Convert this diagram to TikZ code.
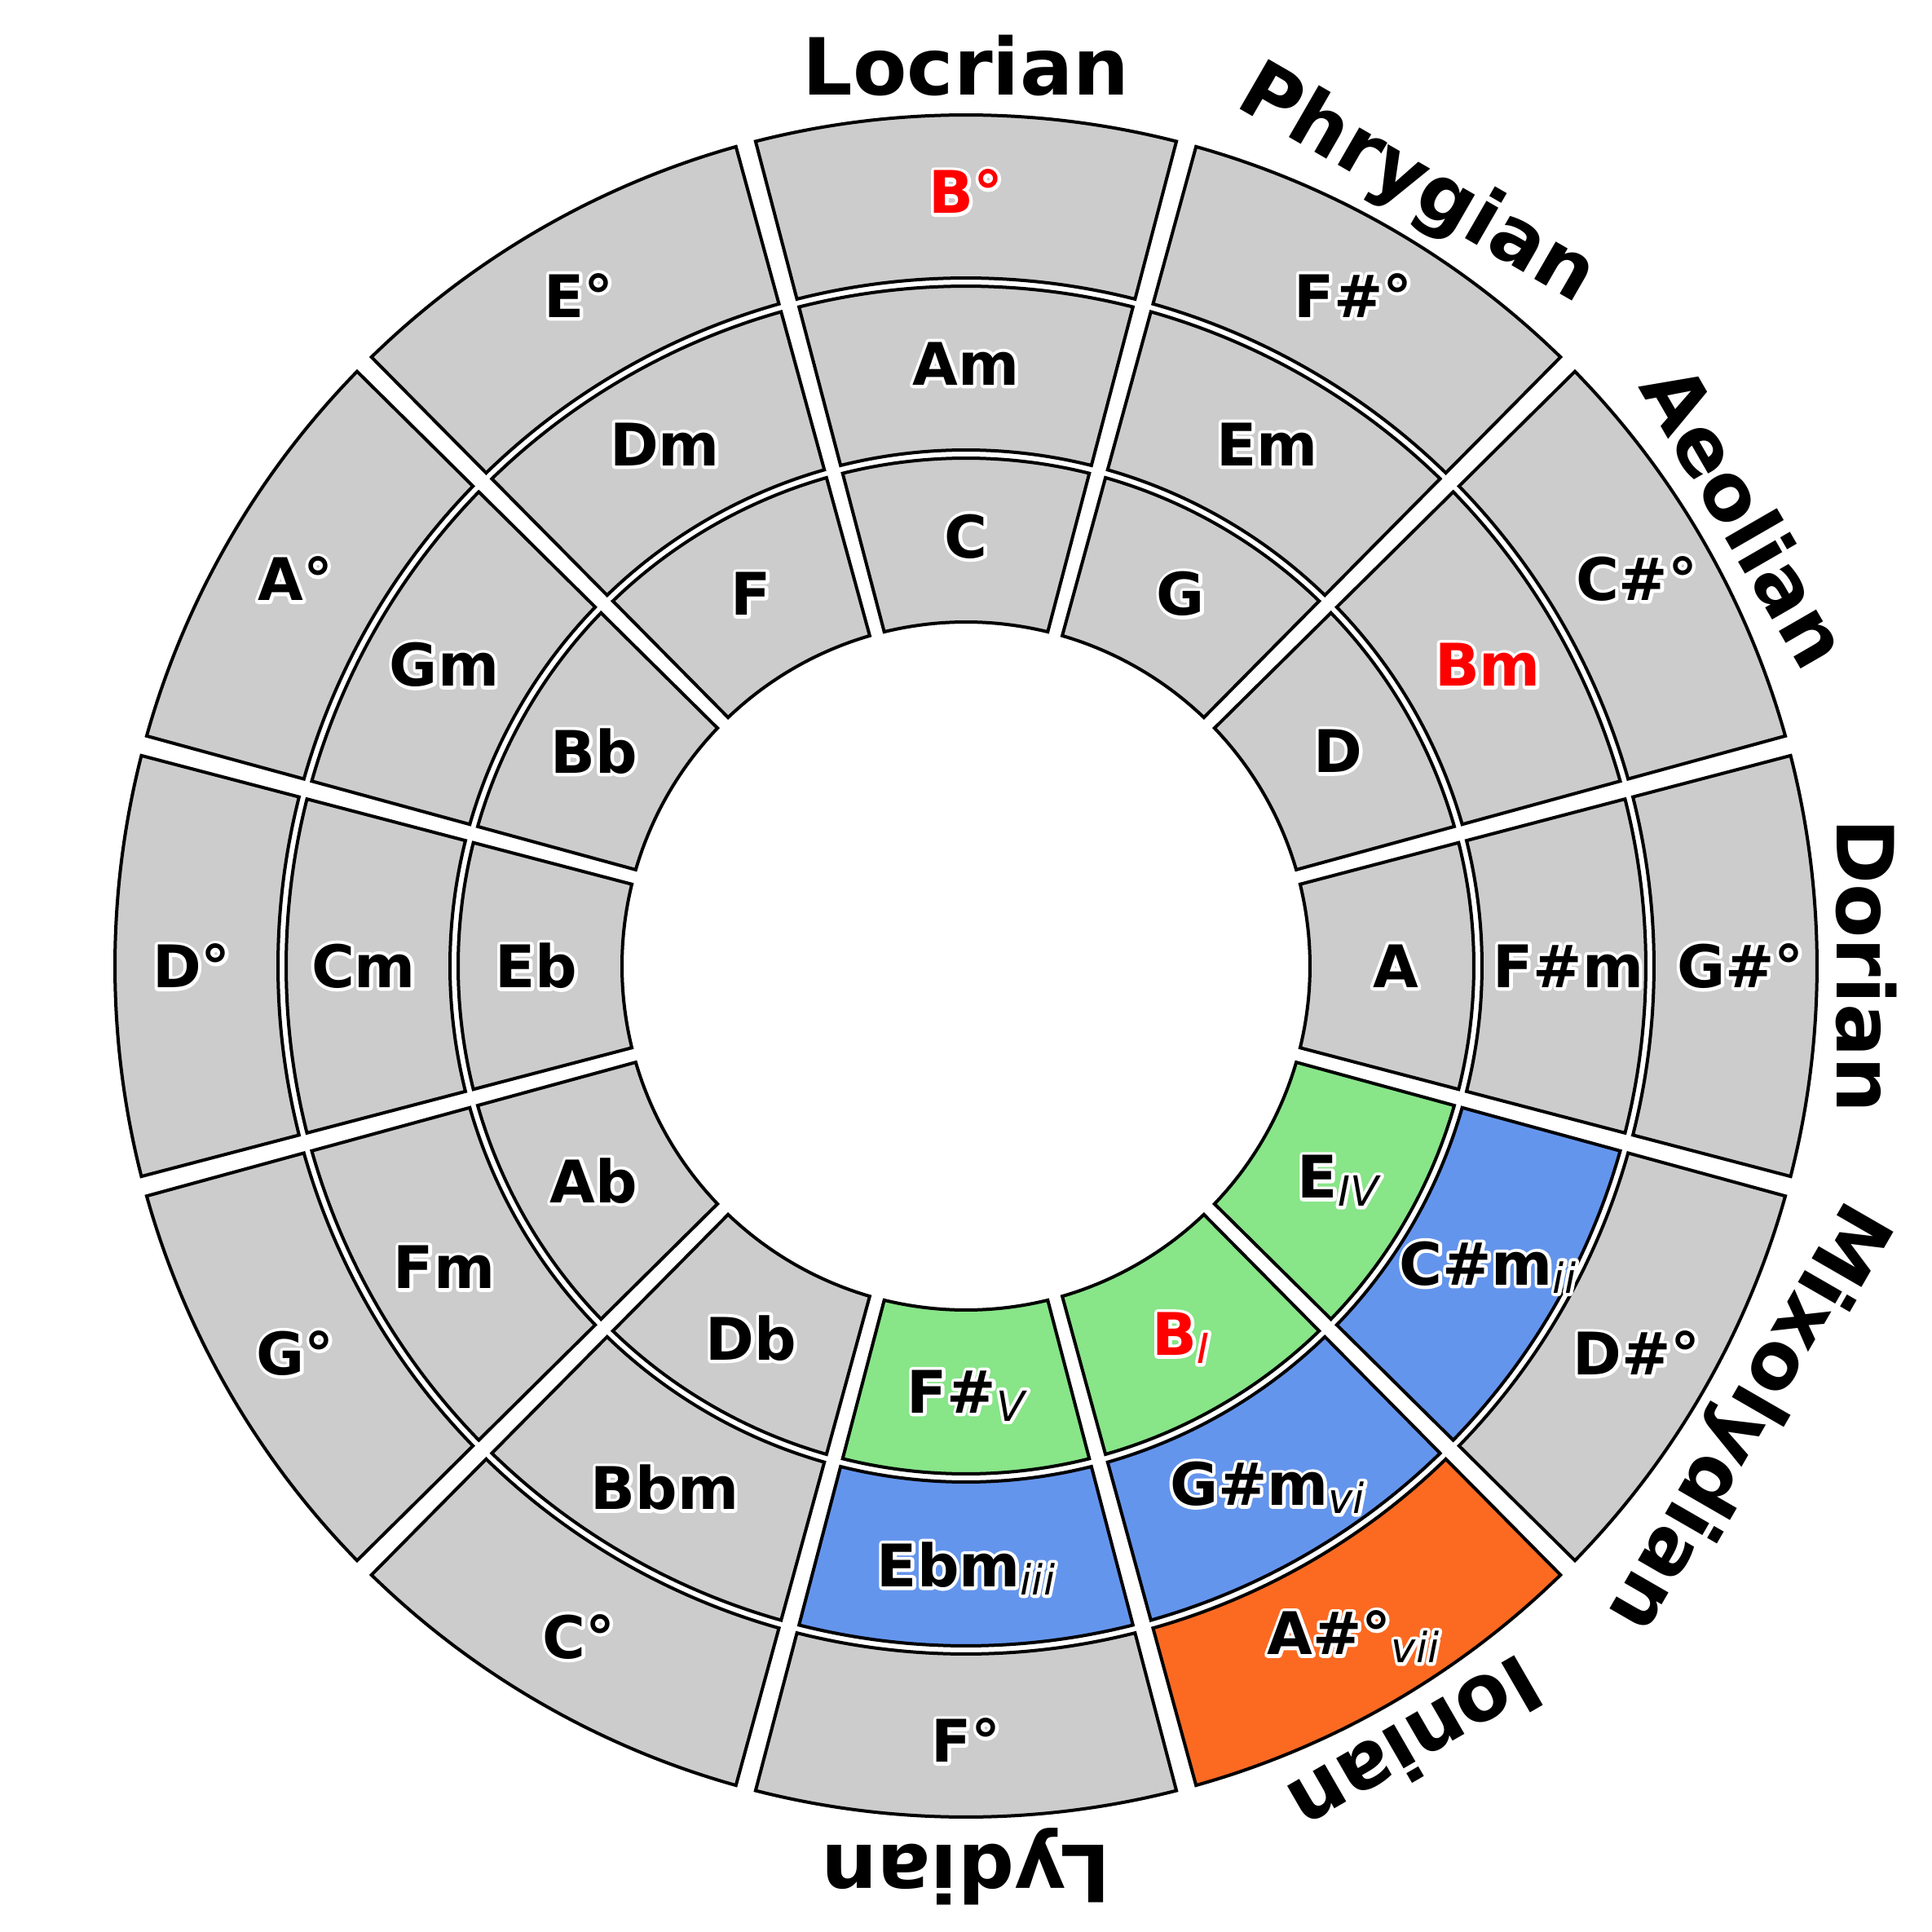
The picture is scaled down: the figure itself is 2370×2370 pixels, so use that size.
\documentclass[tikz,border=0pt]{standalone}
\usepackage{fontspec}
\setmainfont{DejaVu Sans}
\definecolor{cgray}{HTML}{CCCCCC}
\definecolor{cgreen}{HTML}{88E588}
\definecolor{cblue}{HTML}{6495ED}
\definecolor{corange}{HTML}{FC6A22}
\newcommand\halo[1]{\leavevmode\special{pdf:literal q 1 1 1 RG 1 1 1 rg 1 j 1 J 2.3 w 2 Tr}\rlap{#1}\special{pdf:literal Q}#1}
\newcommand\sbs[1]{\raisebox{-2.8pt}{\fontsize{14.5pt}{16pt}\selectfont\mdseries\itshape #1}}
\tikzset{
  sec/.style={draw=black, line width=0.4mm, line join=miter},
  chord/.style={inner sep=0pt, font=\fontsize{20.5pt}{24pt}\selectfont\bfseries},
  modelabel/.style={inner sep=0pt, font=\fontsize{27.5pt}{32pt}\selectfont\bfseries},
}
\newcommand\sector[4]{%
  \pgfmathsetmacro\da{asin(7/#2)+0.3}%
  \pgfmathsetmacro\db{asin(7/#3)+0.3}%
  \filldraw[sec, fill=#4] (#1-15+\da:#2) arc[start angle=#1-15+\da, end angle=#1+15-\da, radius=#2]
    -- (#1+15-\db:#3) arc[start angle=#1+15-\db, end angle=#1-15+\db, radius=#3] -- cycle;}
\begin{document}
\begin{tikzpicture}[x=0.1mm,y=0.1mm]
\useasboundingbox (-1185,-1185) rectangle (1185,1185);
\foreach \a/\ci/\cm/\co in {90/cgray/cgray/cgray,60/cgray/cgray/cgray,30/cgray/cgray/cgray,0/cgray/cgray/cgray,-30/cgreen/cblue/cgray,-60/cgreen/cblue/corange,-90/cgreen/cblue/cgray,-120/cgray/cgray/cgray,-150/cgray/cgray/cgray,180/cgray/cgray/cgray,150/cgray/cgray/cgray,120/cgray/cgray/cgray}{
  \sector{\a}{422}{623}{\ci}
  \sector{\a}{633}{834}{\cm}
  \sector{\a}{844}{1044}{\co}
}
% inner ring
\node[chord] (iC) at (90:527) {\halo{C}};
\node[chord] (iG) at (60:527) {\halo{G}};
\node[chord] (iD) at (30:527) {\halo{D}};
\node[chord] (iA) at (0:527) {\halo{A}};
\node[chord] (iE) at (-30:527) {\halo{E\sbs{IV}}};
\node[chord, text=red] (iB) at (-60:527) {\halo{B\sbs{I}}};
\node[chord] (iFs) at (-90:527) {\halo{F\#\sbs{V}}};
\node[chord] (iDb) at (-120:527) {\halo{Db}};
\node[chord] (iAb) at (-150:527) {\halo{Ab}};
\node[chord] (iEb) at (180:527) {\halo{Eb}};
\node[chord] (iBb) at (150:527) {\halo{Bb}};
\node[chord] (iF) at (120:527) {\halo{F}};
% middle ring
\node[chord] (mAm) at (90:739) {\halo{Am}};
\node[chord] (mEm) at (60:739) {\halo{Em}};
\node[chord, text=red] (mBm) at (30:739) {\halo{Bm}};
\node[chord] (mFsm) at (0:739) {\halo{F\#m}};
\node[chord] (mCsm) at (-30:739) {\halo{C\#m\sbs{ii}}};
\node[chord] (mGsm) at (-60:739) {\halo{G\#m\sbs{vi}}};
\node[chord] (mEbm) at (-90:739) {\halo{Ebm\sbs{iii}}};
\node[chord] (mBbm) at (-120:739) {\halo{Bbm}};
\node[chord] (mFm) at (-150:739) {\halo{Fm}};
\node[chord] (mCm) at (180:739) {\halo{Cm}};
\node[chord] (mGm) at (150:739) {\halo{Gm}};
\node[chord] (mDm) at (120:739) {\halo{Dm}};
% outer ring
\node[chord, text=red] (oB) at (90:950) {\halo{B°}};
\node[chord] (oFs) at (60:950) {\halo{F\#°}};
\node[chord] (oCs) at (30:950) {\halo{C\#°}};
\node[chord] (oGs) at (0:950) {\halo{G\#°}};
\node[chord] (oDs) at (-30:950) {\halo{D\#°}};
\node[chord] (oAs) at (-60:950) {\halo{A\#°\sbs{vii}}};
\node[chord] (oF) at (-90:950) {\halo{F°}};
\node[chord] (oC) at (-120:950) {\halo{C°}};
\node[chord] (oG) at (-150:950) {\halo{G°}};
\node[chord] (oD) at (180:950) {\halo{D°}};
\node[chord] (oA) at (150:950) {\halo{A°}};
\node[chord] (oE) at (120:950) {\halo{E°}};
% modes
\node[modelabel, rotate=0] (mdLoc) at (90:1105) {Locrian};
\node[modelabel, rotate=-30] (mdPhr) at (60:1105) {Phrygian};
\node[modelabel, rotate=-60] (mdAeo) at (30:1105) {Aeolian};
\node[modelabel, rotate=-90] (mdDor) at (0:1105) {Dorian};
\node[modelabel, rotate=-120] (mdMix) at (-30:1105) {Mixolydian};
\node[modelabel, rotate=-150] (mdIon) at (-60:1105) {Ionian};
\node[modelabel, rotate=-180] (mdLyd) at (-90:1105) {Lydian};
\end{tikzpicture}
\end{document}
